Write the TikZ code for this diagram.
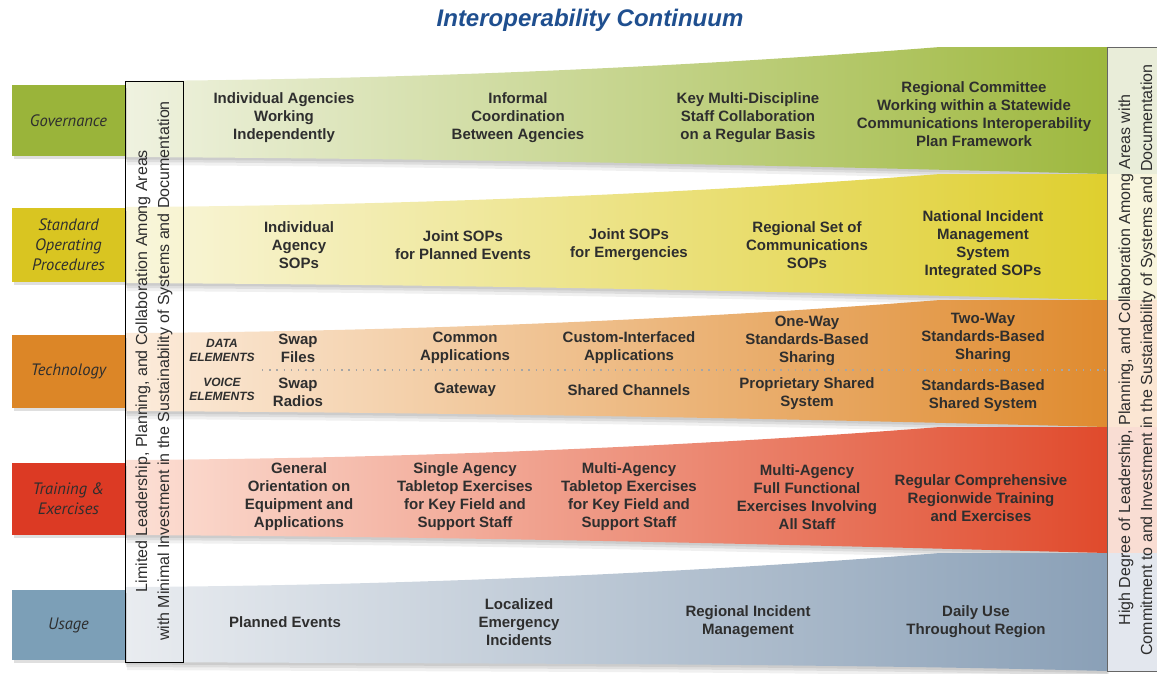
\documentclass[tikz,border=0pt]{standalone}
\usepackage{fontspec}
\setmainfont{Liberation Sans}
\newfontfamily\labfont{PT Sans}
\usetikzlibrary{shadows}
\definecolor{txt}{HTML}{2E2E2E}
\definecolor{titleblue}{HTML}{1F4F8F}
\definecolor{govL}{HTML}{EFF2E0}\definecolor{govR}{HTML}{9EB83E}\definecolor{govC}{HTML}{9AB43A}\definecolor{govP}{HTML}{E9EDD9}
\definecolor{sopL}{HTML}{F9F6DC}\definecolor{sopR}{HTML}{DFCF2E}\definecolor{sopC}{HTML}{D9C521}\definecolor{sopP}{HTML}{F8F5DD}
\definecolor{tecL}{HTML}{FCECDC}\definecolor{tecR}{HTML}{DF8B2F}\definecolor{tecC}{HTML}{DC8627}\definecolor{tecP}{HTML}{FBE6D3}
\definecolor{trnL}{HTML}{FCE0D5}\definecolor{trnR}{HTML}{E04A2C}\definecolor{trnC}{HTML}{DC3A24}\definecolor{trnP}{HTML}{F9DDD3}
\definecolor{usgL}{HTML}{E9ECF0}\definecolor{usgR}{HTML}{8AA0B7}\definecolor{usgC}{HTML}{7C9FB7}\definecolor{usgP}{HTML}{E3E7EE}
\newcommand\bandshape[4]{(125,#1) .. controls (500,#1-2) and (800,#2+11) .. (940,#2) -- (1107,#2) -- (1107,#4) .. controls (800,#4-8) and (500,#3+2) .. (125,#3) -- cycle}
\newcommand\drawband[6]{%
  \fill[black,opacity=.06,shift={(2,8)}] \bandshape{#1}{#2}{#3}{#4};
  \fill[black,opacity=.08,shift={(1,5)}] \bandshape{#1}{#2}{#3}{#4};
  \fill[black,opacity=.08,shift={(0,2.5)}] \bandshape{#1}{#2}{#3}{#4};
  \shade[left color=#5,right color=#6] \bandshape{#1}{#2}{#3}{#4};}
\tikzset{
  bt/.style={font=\fontsize{15}{18}\selectfont\bfseries, align=center, text=txt, inner sep=1pt},
  lab/.style={font=\labfont\itshape\fontsize{16.5}{20}\selectfont, align=center, text=txt, minimum width=113pt, inner sep=0pt, drop shadow={opacity=.25,shadow xshift=2pt,shadow yshift=-3pt}},
  el/.style={font=\bfseries\itshape\fontsize{12}{14}\selectfont, align=center, text=txt, inner sep=1pt},
  side/.style={font=\fontsize{16}{22}\selectfont, align=center, text=txt, rotate=90, inner sep=0pt}
}
\begin{document}
\begin{tikzpicture}[x=1pt,y=-1pt]
\useasboundingbox (0,0) rectangle (1157,673);
% title
\node[font=\fontsize{24}{26}\selectfont\bfseries\itshape, text=titleblue] (title) at (590,20) {Interoperability Continuum};
% bands
\drawband{81}{47}{157}{174}{govL}{govR}
\drawband{207}{174}{283}{300}{sopL}{sopR}
\drawband{333}{300}{411}{427}{tecL}{tecR}
\drawband{460}{427}{535}{553}{trnL}{trnR}
\drawband{587}{553}{662}{671}{usgL}{usgR}
% right box
\fill[govP] (1107,47) rectangle (1157,174);
\fill[sopP] (1107,174) rectangle (1157,300);
\fill[tecP] (1107,300) rectangle (1157,427);
\fill[trnP] (1107,427) rectangle (1157,553);
\fill[usgP] (1107,553) rectangle (1157,671);
\draw[gray!80!black,line width=1pt] (1157,47) -- (1107,47) -- (1107,671) -- (1157,671);
\node[side] (rtext) at (1137,360) {High Degree of Leadership, Planning, and Collaboration Among Areas with\\Commitment to and Investment in the Sustainability of Systems and Documentation};
% left labels
\node[lab, fill=govC, minimum height=71pt] (lgov) at (68.5,120.5) {Governance};
\node[lab, fill=sopC, minimum height=74pt] (lsop) at (68.5,245) {Standard\\Operating\\Procedures};
\node[lab, fill=tecC, minimum height=73pt] (ltec) at (68.5,371.5) {Technology};
\node[lab, fill=trnC, minimum height=72pt] (ltrn) at (68.5,499) {Training \&\\Exercises};
\node[lab, fill=usgC, minimum height=70pt] (lusg) at (68.5,625) {Usage};
% left box
\draw[black,line width=1pt] (125,81) rectangle (183,662);
\node[side] (ltext) at (154,371) {Limited Leadership, Planning, and Collaboration Among Areas\\with Minimal Investment in the Sustainability of Systems and Documentation};
% governance texts
\node[bt] (g1) at (284,118) {Individual Agencies\\Working\\Independently};
\node[bt] (g2) at (518,118) {Informal\\Coordination\\Between Agencies};
\node[bt] (g3) at (748,118) {Key Multi-Discipline\\Staff Collaboration\\on a Regular Basis};
\node[bt] (g4) at (974,114) {Regional Committee\\Working within a Statewide\\Communications Interoperability\\Plan Framework};
% SOP texts
\node[bt] (s1) at (299,245) {Individual\\Agency\\SOPs};
\node[bt] (s2) at (463,245) {Joint SOPs\\for Planned Events};
\node[bt] (s3) at (629,245) {Joint SOPs\\for Emergencies};
\node[bt] (s4) at (807,245) {Regional Set of\\Communications\\SOPs};
\node[bt] (s5) at (983,245) {National Incident\\Management\\System\\Integrated SOPs};
% technology
\node[el] (de) at (222,350) {DATA\\ELEMENTS};
\node[el] (ve) at (222,389) {VOICE\\ELEMENTS};
\coordinate (dotA) at (262,370);
\coordinate (dotB) at (1105,370);
\draw[gray!70, line width=1.4pt, dash pattern=on 1.4pt off 5.8pt] (dotA) -- (dotB);
\node[bt] (t1) at (298,348) {Swap\\Files};
\node[bt] (t2) at (298,392) {Swap\\Radios};
\node[bt] (t3) at (465,348) {Common\\Applications};
\node[bt] (t4) at (465,390) {Gateway};
\node[bt] (t5) at (629,348) {Custom-Interfaced\\Applications};
\node[bt] (t6) at (629,390) {Shared Channels};
\node[bt] (t7) at (807,341) {One-Way\\Standards-Based\\Sharing};
\node[bt] (t8) at (807,394) {Proprietary Shared\\System};
\node[bt] (t9) at (983,338) {Two-Way\\Standards-Based\\Sharing};
\node[bt] (t10) at (983,396) {Standards-Based\\Shared System};
% training
\node[bt] (r1) at (299,497) {General\\Orientation on\\Equipment and\\Applications};
\node[bt] (r2) at (465,497) {Single Agency\\Tabletop Exercises\\for Key Field and\\Support Staff};
\node[bt] (r3) at (629,497) {Multi-Agency\\Tabletop Exercises\\for Key Field and\\Support Staff};
\node[bt] (r4) at (807,497) {Multi-Agency\\Full Functional\\Exercises Involving\\All Staff};
\node[bt] (r5) at (981,498) {Regular Comprehensive\\Regionwide Training\\and Exercises};
% usage
\node[bt] (u1) at (285,622) {Planned Events};
\node[bt] (u2) at (519,622) {Localized\\Emergency\\Incidents};
\node[bt] (u3) at (748,622) {Regional Incident\\Management};
\node[bt] (u4) at (976,622) {Daily Use\\Throughout Region};
\end{tikzpicture}
\end{document}
